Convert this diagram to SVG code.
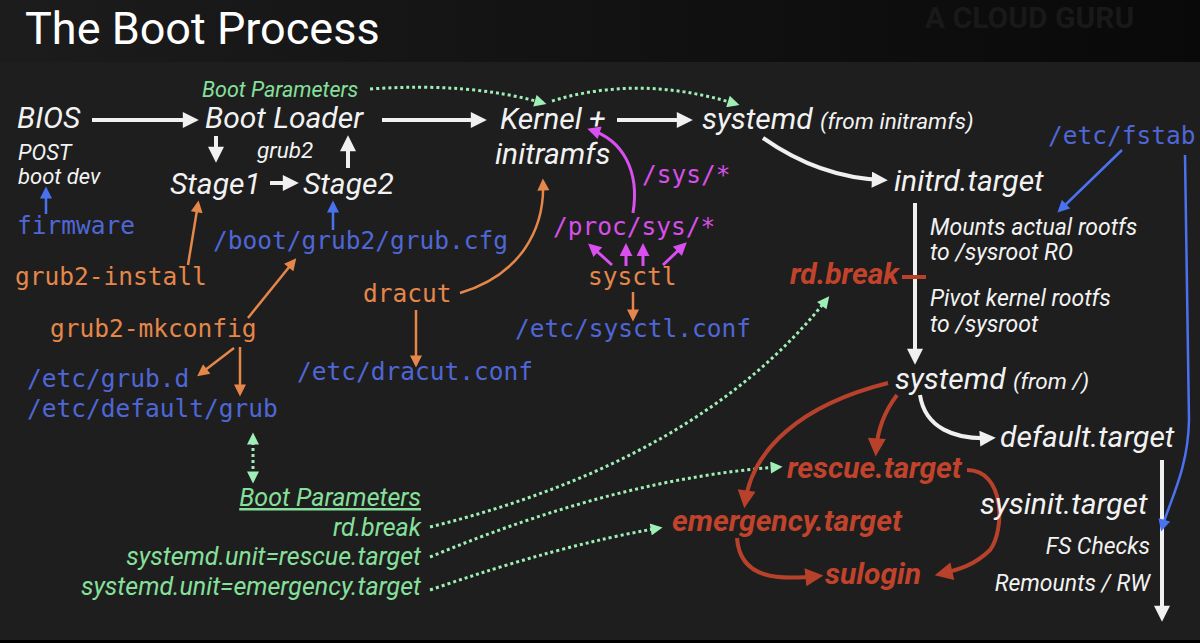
<svg xmlns="http://www.w3.org/2000/svg" width="1200" height="643" viewBox="0 0 1200 643">
<defs>
<style>
.w{fill:#f2f2f2;font-family:Roboto,"Liberation Sans",sans-serif;font-style:italic}
.b{font-size:30px}
.s{font-size:23px}
.m{font-family:"DejaVu Sans Mono","Liberation Mono",monospace;font-size:24.5px}
.blue{fill:#4f67d6}
.or{fill:#e5874a}
.mag{fill:#d64fe8}
.g{fill:#86e09c;font-family:Roboto,"Liberation Sans",sans-serif;font-style:italic;font-size:25px}
.r{fill:#c2432c;font-family:Roboto,"Liberation Sans",sans-serif;font-style:italic;font-weight:bold;font-size:30px}
.lw{stroke:#f0f0f0;stroke-width:4;fill:none}
.lb{stroke:#4a72f0;stroke-width:2.5;fill:none}
.lo{stroke:#e5874a;stroke-width:2.5;fill:none}
.lm{stroke:#d94ff0;stroke-width:3;fill:none}
.lr{stroke:#b8412c;stroke-width:4;fill:none}
.lg{stroke:#9eeeb6;stroke-width:3;fill:none;stroke-dasharray:3 3}
</style>
<linearGradient id="band" x1="0" y1="0" x2="1" y2="0">
<stop offset="0" stop-color="#1c1c1c"/><stop offset="0.5" stop-color="#121212"/><stop offset="1" stop-color="#090909"/>
</linearGradient>
<marker id="aw" viewBox="0 0 10 10" refX="7" refY="5" markerWidth="17" markerHeight="16" markerUnits="userSpaceOnUse" orient="auto"><path d="M0,0 L10,5 L0,10 z" fill="#f0f0f0"/></marker>
<marker id="ab" viewBox="0 0 10 10" refX="7" refY="5" markerWidth="13" markerHeight="12" markerUnits="userSpaceOnUse" orient="auto"><path d="M0,0 L10,5 L0,10 z" fill="#4a72f0"/></marker>
<marker id="ao" viewBox="0 0 10 10" refX="7" refY="5" markerWidth="13" markerHeight="12" markerUnits="userSpaceOnUse" orient="auto"><path d="M0,0 L10,5 L0,10 z" fill="#e5874a"/></marker>
<marker id="am" viewBox="0 0 10 10" refX="7" refY="5" markerWidth="14" markerHeight="13" markerUnits="userSpaceOnUse" orient="auto"><path d="M0,0 L10,5 L0,10 z" fill="#d94ff0"/></marker>
<marker id="ar" viewBox="0 0 10 10" refX="7" refY="5" markerWidth="20" markerHeight="18" markerUnits="userSpaceOnUse" orient="auto"><path d="M0,0 L10,5 L0,10 z" fill="#b8412c"/></marker>
<marker id="ag" viewBox="0 0 10 10" refX="7" refY="5" markerWidth="13" markerHeight="12" markerUnits="userSpaceOnUse" orient="auto"><path d="M0,0 L10,5 L0,10 z" fill="#9eeeb6"/></marker>
<marker id="ags" viewBox="0 0 10 10" refX="7" refY="5" markerWidth="13" markerHeight="12" markerUnits="userSpaceOnUse" orient="auto-start-reverse"><path d="M0,0 L10,5 L0,10 z" fill="#9eeeb6"/></marker>
</defs>
<rect width="1200" height="643" fill="#1e1e1e"/>
<rect width="1200" height="62" fill="url(#band)"/>
<rect y="640" width="1200" height="3" fill="#000"/>
<text x="25" y="44" fill="#ffffff" font-family="Roboto,'Liberation Sans',sans-serif" font-size="45">The Boot Process</text>
<text x="925" y="28" fill="#191919" font-family="Roboto,'Liberation Sans',sans-serif" font-weight="bold" font-size="30">A CLOUD GURU</text>

<g id="connectors">
<path class="lw" d="M92,120 L194,120" marker-end="url(#aw)"/>
<path class="lw" d="M382,120 L482,120" marker-end="url(#aw)"/>
<path class="lw" d="M617,120 L688,120" marker-end="url(#aw)"/>
<path class="lw" d="M216,136 L216,158" marker-end="url(#aw)"/>
<path class="lw" d="M348,168 L348,140" marker-end="url(#aw)"/>
<path class="lw" d="M270,183 L294,183" marker-end="url(#aw)"/>
<path class="lw" d="M763,138 Q820,178 883,180" marker-end="url(#aw)"/>
<path class="lw" d="M915,203 L915,360" marker-end="url(#aw)"/>
<path class="lw" d="M920,395 C925,428 955,440 991,438" marker-end="url(#aw)"/>
<path class="lw" d="M1162,460 L1162,617" marker-end="url(#aw)"/>

<path class="lb" d="M46,214 L46,190" marker-end="url(#ab)"/>
<path class="lb" d="M333,230 L333,204" marker-end="url(#ab)"/>
<path class="lb" d="M1122,150 L1060,210" marker-end="url(#ab)"/>
<path class="lb" d="M1185,155 L1189,420 C1188,470 1170,500 1162,528" marker-end="url(#ab)"/>

<path class="lo" d="M188,265 L198,204" marker-end="url(#ao)"/>
<path class="lo" d="M248,318 L294,261" marker-end="url(#ao)"/>
<path class="lo" d="M234,348 L200,374" marker-end="url(#ao)"/>
<path class="lo" d="M240,347 L240,393" marker-end="url(#ao)"/>
<path class="lo" d="M460,293 C520,275 545,230 543,182" marker-end="url(#ao)"/>
<path class="lo" d="M416,310 L416,364" marker-end="url(#ao)"/>
<path class="lo" d="M633,292 L633,318" marker-end="url(#ao)"/>

<path class="lm" d="M633,213 C640,170 622,140 591,130" marker-end="url(#am)"/>
<path class="lm" d="M612,265 L591,246" marker-end="url(#am)"/>
<path class="lm" d="M626,266 L626,247" marker-end="url(#am)"/>
<path class="lm" d="M643,266 L643,247" marker-end="url(#am)"/>
<path class="lm" d="M663,265 L684,245" marker-end="url(#am)"/>

<path class="lg" d="M370,89 Q470,82 543,103" marker-end="url(#ag)"/>
<path class="lg" d="M552,101 Q640,74 736,104" marker-end="url(#ag)"/>
<path class="lg" d="M253,436 L253,480" marker-start="url(#ags)" marker-end="url(#ag)"/>
<path class="lg" d="M430,527 Q700,460 827,299" marker-end="url(#ag)"/>
<path class="lg" d="M430,557 Q620,478 779,467" marker-end="url(#ag)"/>
<path class="lg" d="M430,590 Q560,545 659,528" marker-end="url(#ag)"/>

<path class="lr" d="M902,277 L926,277"/>
<path class="lr" d="M888,383 C800,405 752,450 745,503" marker-end="url(#ar)"/>
<path class="lr" d="M897,395 Q878,420 876,451" marker-end="url(#ar)"/>
<path class="lr" d="M967,470 C1005,470 1005,530 990,550 C975,565 958,570 940,574" marker-end="url(#ar)"/>
<path class="lr" d="M737,538 C740,580 780,580 818,576" marker-end="url(#ar)"/>
</g>

<g id="bios"><text class="w b" x="17" y="128">BIOS</text><text class="w" font-size="22" x="18" y="160">POST</text><text class="w" font-size="22" x="18" y="184">boot dev</text></g>
<g id="firmware"><text class="m blue" x="17" y="234">firmware</text></g>
<g id="bootloader"><text class="w b" x="205" y="128">Boot Loader</text><text class="w" font-size="22.5" x="257" y="158">grub2</text></g>
<g id="bootparams-top"><text class="g" style="font-size:21.5px" x="202" y="97">Boot Parameters</text></g>
<g id="stage1"><text class="w b" x="170" y="194">Stage1</text></g>
<g id="stage2"><text class="w b" x="303" y="194">Stage2</text></g>
<g id="grubcfg"><text class="m blue" x="213" y="249">/boot/grub2/grub.cfg</text></g>
<g id="grub2install"><text class="m or" x="15" y="285">grub2-install</text></g>
<g id="grub2mkconfig"><text class="m or" x="50" y="337">grub2-mkconfig</text></g>
<g id="grubd"><text class="m blue" x="27" y="387">/etc/grub.d</text></g>
<g id="defaultgrub"><text class="m blue" x="27" y="417">/etc/default/grub</text></g>
<g id="dracut"><text class="m or" x="363" y="302">dracut</text></g>
<g id="dracutconf"><text class="m blue" x="297" y="380">/etc/dracut.conf</text></g>
<g id="kernel"><text class="w b" x="500" y="129">Kernel +</text><text class="w b" x="495" y="164">initramfs</text></g>
<g id="sys"><text class="m mag" x="642" y="183">/sys/*</text></g>
<g id="procsys"><text class="m mag" x="553" y="235">/proc/sys/*</text></g>
<g id="sysctl"><text class="m or" x="588" y="285">sysctl</text></g>
<g id="sysctlconf"><text class="m blue" x="515" y="337">/etc/sysctl.conf</text></g>
<g id="systemd-initramfs"><text class="w b" x="702" y="129">systemd <tspan font-size="22.5">(from initramfs)</tspan></text></g>
<g id="fstab"><text class="m blue" x="1048" y="144">/etc/fstab</text></g>
<g id="initrd"><text class="w b" x="894" y="191">initrd.target</text></g>
<g id="mounts"><text class="w s" x="930" y="235">Mounts actual rootfs</text><text class="w s" x="930" y="260">to /sysroot RO</text></g>
<g id="pivot"><text class="w s" x="930" y="306">Pivot kernel rootfs</text><text class="w s" x="930" y="332">to /sysroot</text></g>
<g id="rdbreak"><text class="r" x="790" y="284">rd.break</text></g>
<g id="systemd-root"><text class="w b" x="895" y="389">systemd <tspan font-size="22.5">(from /)</tspan></text></g>
<g id="default"><text class="w b" x="1000" y="447">default.target</text></g>
<g id="sysinit"><text class="w b" x="980" y="514">sysinit.target</text><text class="w s" x="1150" y="554" text-anchor="end">FS Checks</text><text class="w s" x="1150" y="591" text-anchor="end">Remounts / RW</text></g>
<g id="rescue"><text class="r" x="787" y="478">rescue.target</text></g>
<g id="emergency"><text class="r" x="672" y="531">emergency.target</text></g>
<g id="sulogin"><text class="r" x="825" y="584">sulogin</text></g>
<g id="bootparams"><text class="g" x="421" y="506" text-anchor="end" text-decoration="underline">Boot Parameters</text><text class="g" x="421" y="536" text-anchor="end">rd.break</text><text class="g" x="421" y="565" text-anchor="end">systemd.unit=rescue.target</text><text class="g" x="421" y="595" text-anchor="end">systemd.unit=emergency.target</text></g>
</svg>
